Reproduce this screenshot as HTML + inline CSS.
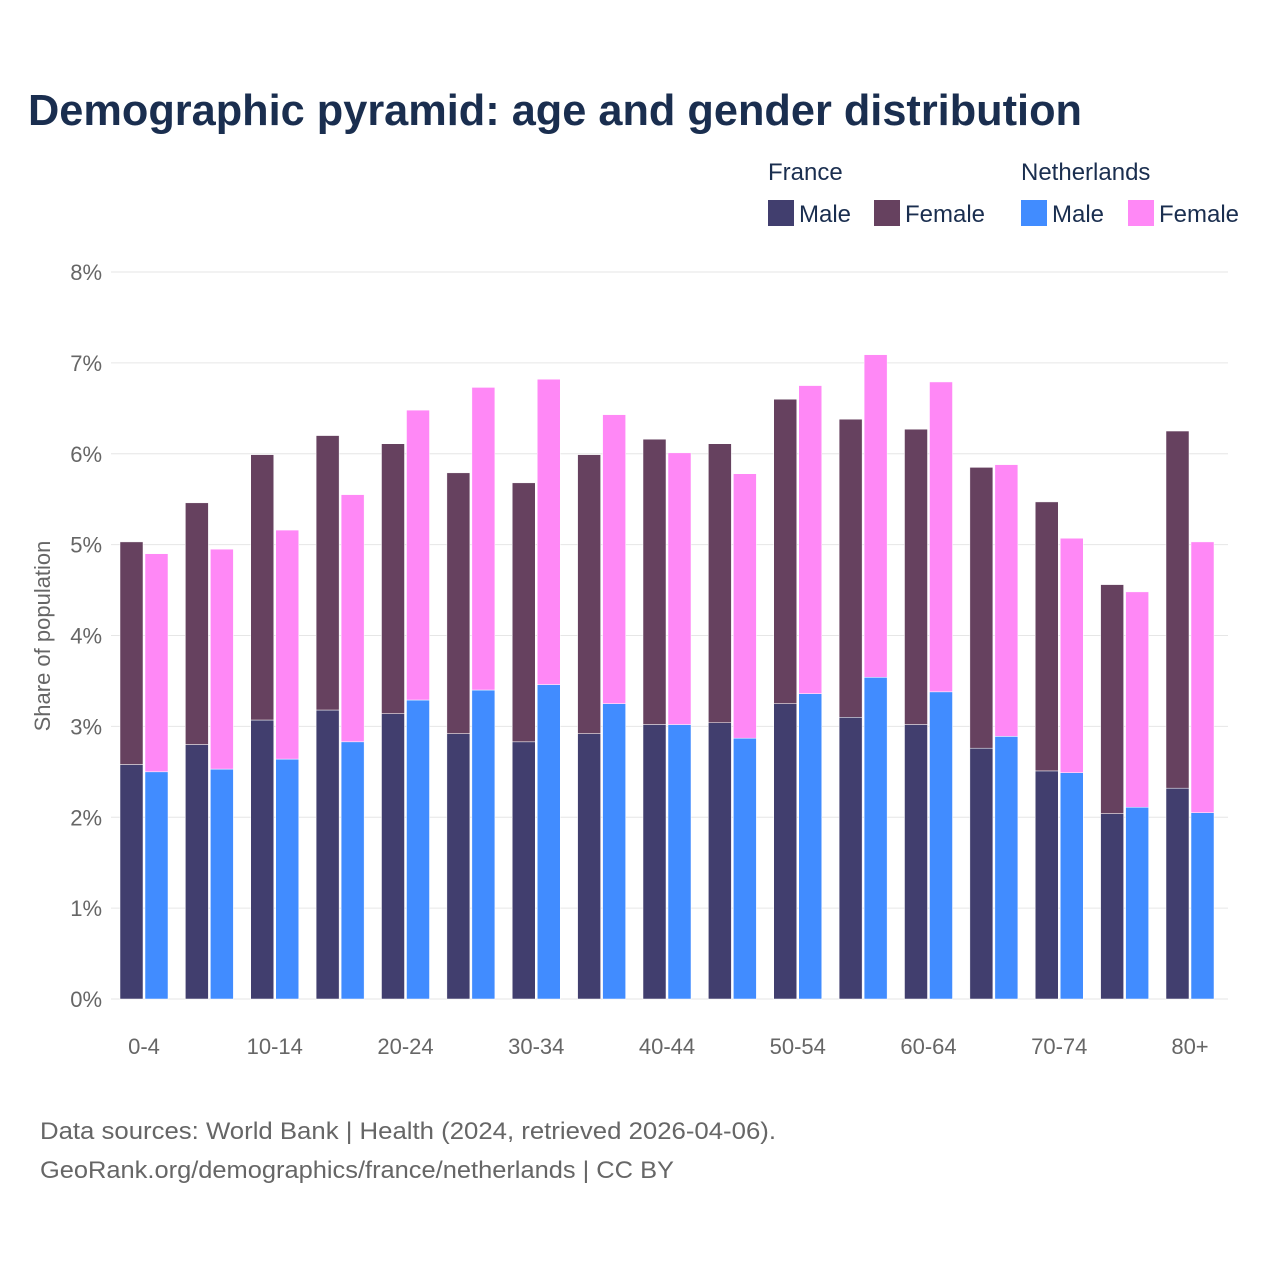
<!DOCTYPE html>
<html><head><meta charset="utf-8"><style>
body{margin:0;background:#fff;font-family:"Liberation Sans",sans-serif;}
#wrap{position:relative;width:1280px;height:1280px;overflow:hidden;}
</style></head><body>
<div id="wrap">
<svg id="chart" width="1280" height="1280" xmlns="http://www.w3.org/2000/svg">
<text x="28" y="125" font-size="44" font-weight="bold" fill="#1a2e4f" textLength="1054" lengthAdjust="spacingAndGlyphs" font-family="Liberation Sans, sans-serif">Demographic pyramid: age and gender distribution</text>
<g font-size="24" fill="#1a2e4f">
<text x="768" y="180">France</text>
<text x="1021" y="180">Netherlands</text>
<rect x="768" y="200" width="26" height="26" fill="#413e6e"/>
<text x="799" y="222">Male</text>
<rect x="874" y="200" width="26" height="26" fill="#66415f"/>
<text x="905" y="222">Female</text>
<rect x="1021" y="200" width="26" height="26" fill="#418cff"/>
<text x="1052" y="222">Male</text>
<rect x="1128" y="200" width="26" height="26" fill="#ff88f6"/>
<text x="1159" y="222">Female</text>
</g>
<g id="grid"></g><g id="bars"></g><g id="axes"></g>
<text transform="translate(50,636) rotate(-90)" text-anchor="middle" font-size="22" fill="#666">Share of population</text>
<text x="40" y="1139" font-size="24" fill="#666" textLength="736" lengthAdjust="spacingAndGlyphs">Data sources: World Bank | Health (2024, retrieved 2026-04-06).</text>
<text x="40" y="1178" font-size="24" fill="#666" textLength="634" lengthAdjust="spacingAndGlyphs">GeoRank.org/demographics/france/netherlands | CC BY</text>
</svg>
</div>
<script>
const categories=["0-4","5-9","10-14","15-19","20-24","25-29","30-34","35-39","40-44","45-49","50-54","55-59","60-64","65-69","70-74","75-79","80+"];
const tickLabels=["0-4","10-14","20-24","30-34","40-44","50-54","60-64","70-74","80+"];
const yTicks=[0,1,2,3,4,5,6,7,8];
const frMale=[2.58,2.80,3.07,3.18,3.14,2.92,2.83,2.92,3.02,3.04,3.25,3.10,3.02,2.76,2.51,2.04,2.32];
const frFemale=[2.45,2.66,2.92,3.02,2.97,2.87,2.85,3.07,3.14,3.07,3.35,3.28,3.25,3.09,2.96,2.52,3.93];
const nlMale=[2.50,2.53,2.64,2.83,3.29,3.40,3.46,3.25,3.02,2.87,3.36,3.54,3.38,2.89,2.49,2.11,2.05];
const nlFemale=[2.40,2.42,2.52,2.72,3.19,3.33,3.36,3.18,2.99,2.91,3.39,3.55,3.41,2.99,2.58,2.37,2.98];
const NS="http://www.w3.org/2000/svg";
const y0=999,pxPer=(999-272)/8;
const y=v=>y0-v*pxPer;
const x=i=>144+i*65.375;
function mk(tag,attrs,parent){const e=document.createElementNS(NS,tag);for(const k in attrs)e.setAttribute(k,attrs[k]);parent.appendChild(e);return e;}
const grid=document.getElementById('grid'),bars=document.getElementById('bars'),axes=document.getElementById('axes');
yTicks.forEach(t=>{
 const l=mk('line',{x1:111,x2:1228,y1:y(t),y2:y(t),stroke:'#e6e6e6','stroke-width':1},grid);
 
 
 const tx=mk('text',{x:102,y:y(t)+8,'text-anchor':'end','font-size':22,fill:'#666'},axes);
 tx.textContent=t+'%';
 
 
});
categories.forEach((c,i)=>{
 const segs=[[x(i)-24,0,frMale[i],'#413e6e','bar-france-male'],[x(i)-24,frMale[i],frFemale[i],'#66415f','bar-france-female'],[x(i)+1,0,nlMale[i],'#418cff','bar-nl-male'],[x(i)+1,nlMale[i],nlFemale[i],'#ff88f6','bar-nl-female']];
 segs.forEach(s=>{
  const r=mk('rect',{x:s[0],y:y(s[1]+s[2]),width:23,height:s[2]*pxPer,fill:s[3],stroke:'#fff','stroke-width':0.5},bars);
  
  
 });
 if(tickLabels.includes(c)){
  const t=mk('text',{x:x(i),y:1054,'text-anchor':'middle','font-size':22,fill:'#666'},axes);
  t.textContent=c;
  
  
 }
});
</script>
</body></html>
